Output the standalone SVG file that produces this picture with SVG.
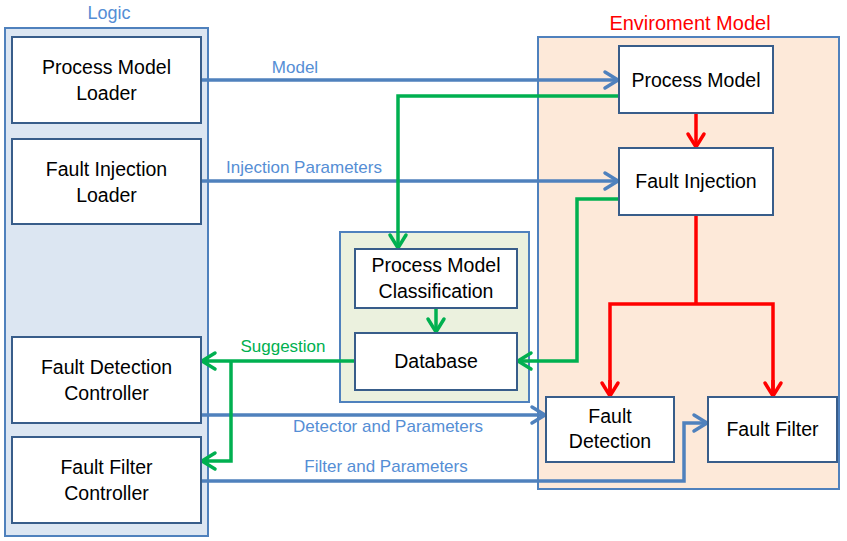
<svg xmlns="http://www.w3.org/2000/svg" width="847" height="541" viewBox="0 0 847 541">
<defs>
<style>
.cont{stroke:#4f81bd;stroke-width:2}
.box{fill:#ffffff;stroke:#385d8a;stroke-width:2}
.t{font-family:"Liberation Sans",Arial,sans-serif;font-size:19.5px;fill:#000;text-anchor:middle}
.lbl{font-family:"Liberation Sans",Arial,sans-serif;font-size:17px;text-anchor:middle}
.blue{stroke:#4f81bd;stroke-width:3.5;fill:none}
.green{stroke:#00b050;stroke-width:3.5;fill:none}
.red{stroke:#ff0000;stroke-width:3.5;fill:none}
</style>
<marker id="ab" markerUnits="userSpaceOnUse" markerWidth="30" markerHeight="30" orient="auto" refX="0" refY="0" viewBox="-20 -15 30 30" overflow="visible"><path d="M-14,-8 L-1,0 L-14,8" fill="none" stroke="#4f81bd" stroke-width="3.5" stroke-linecap="round"/></marker>
<marker id="ag" markerUnits="userSpaceOnUse" markerWidth="30" markerHeight="30" orient="auto" refX="0" refY="0" viewBox="-20 -15 30 30" overflow="visible"><path d="M-14,-8 L-1,0 L-14,8" fill="none" stroke="#00b050" stroke-width="3.5" stroke-linecap="round"/></marker>
<marker id="ar" markerUnits="userSpaceOnUse" markerWidth="30" markerHeight="30" orient="auto" refX="0" refY="0" viewBox="-20 -15 30 30" overflow="visible"><path d="M-14,-8 L-1,0 L-14,8" fill="none" stroke="#ff0000" stroke-width="3.5" stroke-linecap="round"/></marker>
</defs>
<rect width="847" height="541" fill="#ffffff"/>

<g id="logic">
<rect class="cont" x="5" y="28" width="203" height="508" fill="#dce6f2"/>
<text class="lbl" x="109" y="19" style="font-size:18px" fill="#558ed5">Logic</text>
</g>
<g id="env">
<rect class="cont" x="538" y="37" width="301" height="452" fill="#fde9d9"/>
<text class="lbl" x="690" y="30" style="font-size:20px" fill="#ff0000">Enviroment Model</text>
</g>
<g id="dbgroup">
<rect class="cont" x="340" y="232" width="189" height="170" fill="#ebf1de"/>
</g>

<g id="connectors">
<line class="blue" x1="201" y1="80" x2="619" y2="80" marker-end="url(#ab)"/>
<line class="blue" x1="201" y1="181" x2="619" y2="181" marker-end="url(#ab)"/>
<line class="blue" x1="201" y1="415" x2="546" y2="415" marker-end="url(#ab)"/>
<polyline class="blue" points="201,481 684,481 684,423 708,423" marker-end="url(#ab)"/>
<polyline class="green" points="619,96 398,96 398,249" marker-end="url(#ag)"/>
<line class="green" x1="436" y1="308" x2="436" y2="333" marker-end="url(#ag)"/>
<polyline class="green" points="619,199 577,199 577,361 517,361" marker-end="url(#ag)"/>
<line class="green" x1="355" y1="361" x2="201" y2="361" marker-end="url(#ag)"/>
<polyline class="green" points="231,361 231,461 201,461" marker-end="url(#ag)"/>
<line class="red" x1="696" y1="113" x2="696" y2="148" marker-end="url(#ar)"/>
<polyline class="red" points="696,215 696,304"/>
<polyline class="red" points="610,397 610,304 773,304 773,397"/>
<line class="red" x1="610" y1="380" x2="610" y2="397" marker-end="url(#ar)"/>
<line class="red" x1="773" y1="380" x2="773" y2="397" marker-end="url(#ar)"/>
<text class="lbl" x="295" y="73" fill="#558ed5">Model</text>
<text class="lbl" x="304" y="173" fill="#558ed5">Injection Parameters</text>
<text class="lbl" x="283" y="352" fill="#00b050">Suggestion</text>
<text class="lbl" x="388" y="432" fill="#558ed5">Detector and Parameters</text>
<text class="lbl" x="386" y="472" fill="#558ed5">Filter and Parameters</text>
</g>

<g id="pml"><rect class="box" x="12" y="37" width="189" height="86"/><text class="t" x="106.5" y="74">Process Model</text><text class="t" x="106.5" y="100">Loader</text></g>
<g id="fil"><rect class="box" x="12" y="139" width="189" height="85"/><text class="t" x="106.5" y="176">Fault Injection</text><text class="t" x="106.5" y="202">Loader</text></g>
<g id="fdc"><rect class="box" x="12" y="337" width="189" height="86"/><text class="t" x="106.5" y="374">Fault Detection</text><text class="t" x="106.5" y="400">Controller</text></g>
<g id="ffc"><rect class="box" x="12" y="437" width="189" height="86"/><text class="t" x="106.5" y="474">Fault Filter</text><text class="t" x="106.5" y="500">Controller</text></g>
<g id="pm"><rect class="box" x="619" y="46" width="154" height="67"/><text class="t" x="696" y="87">Process Model</text></g>
<g id="fi"><rect class="box" x="619" y="148" width="154" height="67"/><text class="t" x="696" y="188">Fault Injection</text></g>
<g id="pmc"><rect class="box" x="355" y="249" width="162" height="59"/><text class="t" x="436" y="272">Process Model</text><text class="t" x="436" y="298">Classification</text></g>
<g id="db"><rect class="box" x="355" y="333" width="162" height="57"/><text class="t" x="436" y="368">Database</text></g>
<g id="fd"><rect class="box" x="546" y="397" width="128" height="65"/><text class="t" x="610" y="423">Fault</text><text class="t" x="610" y="448">Detection</text></g>
<g id="ff"><rect class="box" x="708" y="397" width="129" height="65"/><text class="t" x="772.5" y="436">Fault Filter</text></g>
</svg>
